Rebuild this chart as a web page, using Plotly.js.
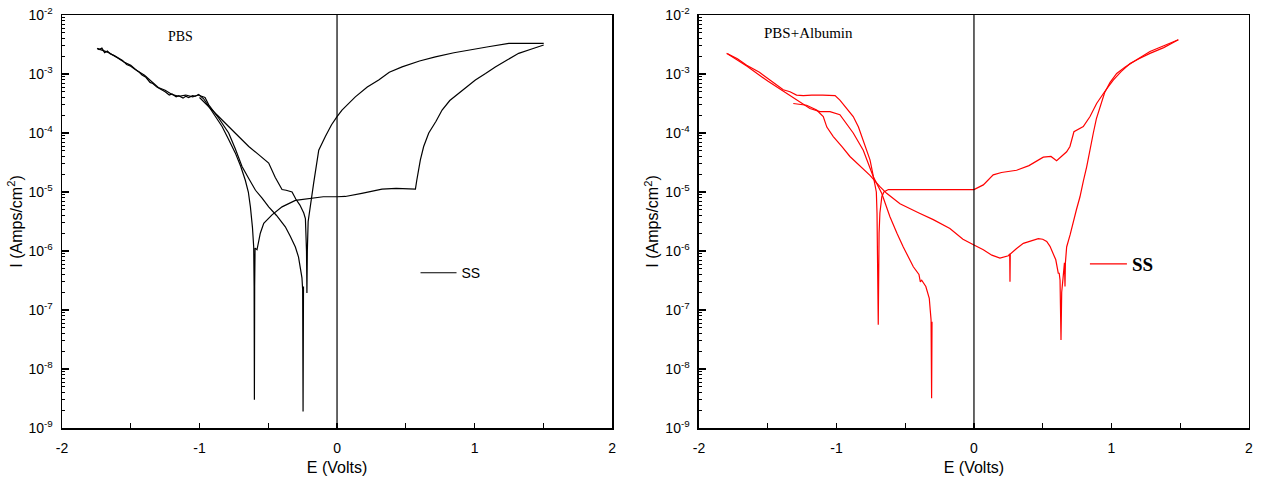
<!DOCTYPE html>
<html>
<head>
<meta charset="utf-8">
<script src="https://cdn.plot.ly/plotly-3.0.1.min.js"></script>
<style>
html,body{margin:0;padding:0;background:#fff;}
#chart{width:1263px;height:482px;}
</style>
</head>
<body>
<div id="chart"></div>
<script>
// ---------- PBS (left panel) ----------
// forward scan: cathodic branch -> Ecorr dip near -0.6 V -> passive plateau -> pitting -> 1.5 V
const pbsFwdE = [-1.745,-1.73,-1.71,-1.69,-1.67,-1.65,-1.62,-1.588,-1.56,-1.53,-1.5,-1.47,-1.44,-1.418,-1.39,-1.36,-1.34,-1.31,-1.273,-1.25,-1.22,-1.2,-1.17,-1.151,-1.12,-1.1,-1.08,-1.05,-1.03,-1.006,-0.97,-0.933,-0.88,-0.836,-0.79,-0.74,-0.70,-0.667,-0.645,-0.63,-0.615,-0.606,-0.603,-0.601,-0.599,-0.596,-0.582,-0.558,-0.533,-0.473,-0.40,-0.303,-0.206,-0.1,0,0.06,0.18,0.27,0.327,0.43,0.497,0.57,0.58,0.606,0.63,0.667,0.72,0.764,0.82,0.885,0.95,1.006,1.08,1.151,1.24,1.321,1.41,1.503];
const pbsFwdI = [2.72e-3,2.6e-3,2.75e-3,2.3e-3,2.45e-3,2.2e-3,2.05e-3,1.85e-3,1.7e-3,1.45e-3,1.35e-3,1.2e-3,1.08e-3,9.6e-4,8.8e-4,7.2e-4,6.9e-4,6.0e-4,5.4e-4,5.0e-4,4.4e-4,4.6e-4,4.1e-4,4.3e-4,3.9e-4,4.2e-4,4.0e-4,4.3e-4,4.2e-4,4.5e-4,3.8e-4,2.8e-4,1.9e-4,1.29e-4,7.9e-5,4.6e-5,2.7e-5,1.58e-5,1.0e-5,5.6e-6,2.5e-6,1.17e-6,2.5e-7,3.0e-9,2.5e-7,1.12e-6,1.05e-6,2.0e-6,2.95e-6,4.1e-6,5.6e-6,7.2e-6,7.8e-6,8.3e-6,8.3e-6,8.4e-6,9.5e-6,1.05e-5,1.12e-5,1.15e-5,1.15e-5,1.12e-5,1.58e-5,3.5e-5,5.9e-5,1.0e-4,1.58e-4,2.45e-4,3.55e-4,4.7e-4,6.3e-4,7.9e-4,1.02e-3,1.32e-3,1.74e-3,2.24e-3,2.63e-3,3.1e-3];
// reverse scan: 1.5 V back to -1.0 V with repassivation dip near -0.22 V
const pbsRevE = [1.503,1.4,1.249,1.1,0.958,0.85,0.715,0.6,0.473,0.38,0.303,0.22,0.133,0.08,0.036,0,-0.04,-0.085,-0.133,-0.17,-0.194,-0.21,-0.216,-0.219,-0.222,-0.23,-0.242,-0.27,-0.3,-0.327,-0.37,-0.4,-0.45,-0.497,-0.57,-0.642,-0.741,-0.836,-0.933,-1.0];
const pbsRevI = [3.3e-3,3.3e-3,3.3e-3,2.9e-3,2.57e-3,2.29e-3,1.95e-3,1.66e-3,1.32e-3,1.07e-3,7.9e-4,6.0e-4,4.1e-4,3.16e-4,2.45e-4,1.9e-4,1.38e-4,8.7e-5,5.1e-5,1.41e-5,5.0e-6,3.16e-6,1.0e-6,1.95e-7,1.0e-6,3.55e-6,4.4e-6,6.0e-6,7.6e-6,1.0e-5,1.07e-5,1.1e-5,1.78e-5,3.1e-5,4.3e-5,5.9e-5,1.0e-4,1.66e-4,2.8e-4,4.0e-4];
// second cathodic scan: dip near -0.25 V
const pbsScan2E = [-1.74,-1.7,-1.66,-1.6,-1.55,-1.5,-1.45,-1.4,-1.35,-1.3,-1.25,-1.2,-1.15,-1.1,-1.05,-1.01,-0.96,-0.933,-0.86,-0.788,-0.74,-0.691,-0.64,-0.593,-0.545,-0.497,-0.44,-0.376,-0.34,-0.303,-0.28,-0.267,-0.255,-0.25,-0.247,-0.244];
const pbsScan2I = [2.69e-3,2.5e-3,2.3e-3,1.91e-3,1.6e-3,1.4e-3,1.12e-3,9.5e-4,7.6e-4,5.9e-4,5.3e-4,4.5e-4,4.2e-4,4.4e-4,4.1e-4,4.4e-4,4.0e-4,3.0e-4,1.78e-4,1.0e-4,5.4e-5,2.7e-5,1.66e-5,1.07e-5,7.9e-6,5.6e-6,4.0e-6,2.57e-6,1.78e-6,1.17e-6,7.9e-7,5.4e-7,3.5e-7,2.2e-7,1.9e-9,2.5e-7];

// ---------- PBS + Albumin (right panel) ----------
const albFwdE = [-1.799,-1.72,-1.653,-1.56,-1.484,-1.435,-1.387,-1.338,-1.29,-1.241,-1.18,-1.1,-1.047,-1.01,-0.975,-0.93,-0.878,-0.84,-0.805,-0.756,-0.735,-0.72,-0.71,-0.705,-0.700,-0.696,-0.69,-0.684,-0.67,-0.655,-0.623,-0.55,-0.465,-0.45,-0.3,-0.15,0,0.068,0.14,0.2,0.31,0.4,0.504,0.56,0.601,0.674,0.698,0.727,0.795,0.844,0.892,0.95,1.013,1.07,1.135,1.2,1.28,1.38,1.486];
const albFwdI = [2.24e-3,1.82e-3,1.41e-3,1.07e-3,7.9e-4,6.5e-4,5.4e-4,5.0e-4,4.4e-4,4.3e-4,4.4e-4,4.4e-4,4.4e-4,4.3e-4,3.6e-4,2.7e-4,1.9e-4,1.26e-4,7.6e-5,3.5e-5,2.0e-5,1.41e-5,1.0e-5,4.4e-6,7.9e-7,5.6e-8,2.0e-6,4.4e-6,8.3e-6,1.0e-5,1.1e-5,1.1e-5,1.1e-5,1.07e-5,1.07e-5,1.07e-5,1.1e-5,1.32e-5,1.95e-5,2.14e-5,2.34e-5,2.8e-5,3.9e-5,4.0e-5,3.4e-5,4.8e-5,5.9e-5,1.05e-4,1.29e-4,1.9e-4,3.16e-4,5.0e-4,7.9e-4,1.1e-3,1.51e-3,1.82e-3,2.24e-3,2.8e-3,3.8e-3];
const albRevE = [1.486,1.38,1.28,1.183,1.1,1.038,0.99,0.95,0.916,0.89,0.868,0.845,0.82,0.795,0.771,0.745,0.722,0.7,0.674,0.665,0.662,0.658,0.648,0.638,0.633,0.63,0.626,0.62,0.613,0.595,0.577,0.553,0.529,0.5,0.468,0.42,0.359,0.31,0.264,0.262,0.26,0.25,0.189,0.13,0.068,0,-0.08,-0.175,-0.296,-0.4,-0.538,-0.635,-0.684,-0.756,-0.83,-0.902,-0.96,-1.023,-1.07,-1.096,-1.144,-1.217,-1.314];
const albRevI = [3.8e-3,3.0e-3,2.4e-3,1.74e-3,1.32e-3,1.02e-3,7.2e-4,4.8e-4,2.8e-4,1.74e-4,1.0e-4,5.2e-5,2.7e-5,1.51e-5,8.3e-6,5.0e-6,2.95e-6,1.91e-6,1.17e-6,6.3e-7,2.5e-7,6.3e-7,3.5e-7,2.0e-7,3.1e-8,1.26e-7,3.2e-7,4.2e-7,4.2e-7,7.1e-7,9.1e-7,1.2e-6,1.45e-6,1.58e-6,1.62e-6,1.51e-6,1.35e-6,1.1e-6,8.9e-7,3.0e-7,8.9e-7,8.3e-7,7.6e-7,8.5e-7,1.05e-6,1.26e-6,1.58e-6,2.4e-6,3.4e-6,4.4e-6,6.3e-6,9.5e-6,1.23e-5,1.91e-5,2.8e-5,4.0e-5,5.9e-5,8.7e-5,1.26e-4,1.9e-4,2.45e-4,2.95e-4,3.16e-4];
const albScan2E = [-1.79,-1.65,-1.5,-1.387,-1.29,-1.193,-1.12,-1.047,-0.975,-0.926,-0.878,-0.805,-0.732,-0.671,-0.611,-0.56,-0.514,-0.441,-0.40,-0.39,-0.38,-0.35,-0.337,-0.325,-0.318,-0.312,-0.308,-0.305];
const albScan2I = [2.19e-3,1.35e-3,7.6e-4,5.1e-4,3.6e-4,2.6e-4,2.3e-4,2.3e-4,2.04e-4,1.45e-4,1.0e-4,5.1e-5,1.82e-5,9.5e-6,3.8e-6,2.0e-6,1.17e-6,5.4e-7,4.0e-7,3.0e-7,3.2e-7,2.5e-7,1.9e-7,1.58e-7,1.0e-7,6.8e-8,3.2e-9,6.3e-8];

// ---------- axis labels ----------
const panelNames = ['PBS', 'PBS+Albumin'];
const legendName = 'SS';
const xTickVals = [-2, -1, 0, 1, 2];
const xTickText = ['-2', '-1', '0', '1', '2'];
const yTickVals = [1e-9, 1e-8, 1e-7, 1e-6, 1e-5, 1e-4, 1e-3, 1e-2];
const yTickText = ['10<sup>-9</sup>','10<sup>-8</sup>','10<sup>-7</sup>','10<sup>-6</sup>','10<sup>-5</sup>','10<sup>-4</sup>','10<sup>-3</sup>','10<sup>-2</sup>'];
const minorMantissas = [2,3,4,5,6,7,8,9];

const yMinor = [];
yTickVals.slice(0, -1).forEach(d => minorMantissas.forEach(m => yMinor.push(+(m * d).toPrecision(3))));

const black = '#000000';
const red = '#ff0000';
const lw = 1.2;

function seg(E, I, color, xa, ya, legend, show) {
  return {x: E, y: I, type: 'scatter', mode: 'lines', xaxis: xa, yaxis: ya,
    line: {color: color, width: lw}, name: legendName, legend: legend,
    legendgroup: legend, showlegend: show, hoverinfo: 'x+y'};
}

const data = [
  seg(pbsFwdE, pbsFwdI, black, 'x', 'y', 'legend', true),
  seg(pbsRevE, pbsRevI, black, 'x', 'y', 'legend', false),
  seg(pbsScan2E, pbsScan2I, black, 'x', 'y', 'legend', false),
  seg(albFwdE, albFwdI, red, 'x2', 'y2', 'legend2', true),
  seg(albRevE, albRevI, red, 'x2', 'y2', 'legend2', false),
  seg(albScan2E, albScan2I, red, 'x2', 'y2', 'legend2', false)
];

const sans = 'Liberation Sans, Arial, sans-serif';
const serif = 'Liberation Serif, Times New Roman, serif';

function xAxis(domain, anchor) {
  return {domain: domain, anchor: anchor, range: [-2, 2], tickmode: 'array',
    tickvals: xTickVals, ticktext: xTickText, ticks: 'inside', ticklen: 5, tickwidth: 1.2,
    tickcolor: black, showline: true, linecolor: black, linewidth: 1.5, mirror: true,
    showgrid: false, zeroline: false, ticklabelstandoff: 7,
    minor: {tickmode: 'array', tickvals: [-1.5, -0.5, 0.5, 1.5], ticks: 'inside', ticklen: 5, tickwidth: 1.2, tickcolor: black, showgrid: false},
    tickfont: {family: sans, size: 14, color: black},
    title: {text: 'E (Volts)', font: {family: sans, size: 16, color: black}, standoff: 6}};
}
function yAxis(anchor) {
  return {type: 'log', domain: [0, 1], anchor: anchor, range: [-9, -2], tickmode: 'array',
    tickvals: yTickVals, ticktext: yTickText, ticks: 'inside', ticklen: 7, tickwidth: 1.2,
    tickcolor: black, showline: true, linecolor: black, linewidth: 1.5, mirror: true,
    showgrid: false, zeroline: false, ticklabelstandoff: 5,
    minor: {tickmode: 'array', tickvals: yMinor, ticks: 'inside', ticklen: 3, tickwidth: 1, tickcolor: black, showgrid: false},
    tickfont: {family: sans, size: 14, color: black},
    title: {text: 'I (Amps/cm<sup>2</sup>)', font: {family: sans, size: 16, color: black}, standoff: 2}};
}

const layout = {
  width: 1263, height: 482,
  margin: {l: 0, r: 0, t: 15, b: 54},
  paper_bgcolor: '#ffffff', plot_bgcolor: '#ffffff',
  xaxis: xAxis([0.0491, 0.4846], 'y'),
  yaxis: yAxis('x'),
  xaxis2: xAxis([0.5534, 0.9889], 'y2'),
  yaxis2: yAxis('x2'),
  shapes: [
    {type: 'line', xref: 'x', yref: 'y domain', x0: 0, x1: 0, y0: 0, y1: 1, line: {color: black, width: 1.2}},
    {type: 'line', xref: 'x2', yref: 'y2 domain', x0: 0, x1: 0, y0: 0, y1: 1, line: {color: black, width: 1.2}}
  ],
  annotations: [
    {xref: 'x', yref: 'y', x: -1.135, y: -2.37, text: panelNames[0], showarrow: false,
     font: {family: serif, size: 14, color: black}},
    {xref: 'x2', yref: 'y2', x: -1.2, y: -2.3, text: panelNames[1], showarrow: false,
     font: {family: serif, size: 15, color: black}}
  ],
  legend: {x: 0.329, y: 0.375, xanchor: 'left', yanchor: 'middle', bgcolor: 'rgba(0,0,0,0)',
    itemwidth: 36, font: {family: sans, size: 14, color: black}},
  legend2: {x: 0.859, y: 0.397, xanchor: 'left', yanchor: 'middle', bgcolor: 'rgba(0,0,0,0)',
    itemwidth: 37, font: {family: serif, size: 19, color: black, weight: 'bold'}},
  showlegend: true
};

Plotly.newPlot('chart', data, layout, {displayModeBar: false, staticPlot: true});
</script>
</body>
</html>
